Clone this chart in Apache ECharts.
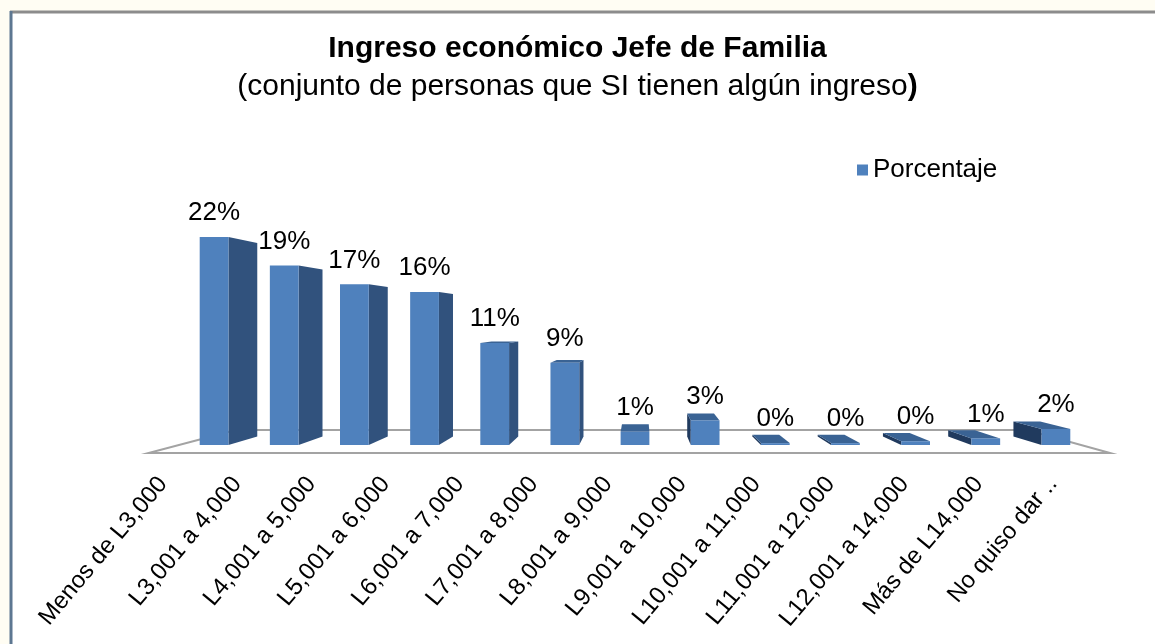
<!DOCTYPE html>
<html>
<head>
<meta charset="utf-8">
<title>Ingreso económico Jefe de Familia</title>
<script src="https://cdn.jsdelivr.net/npm/echarts@6/dist/echarts.min.js"></script>
<style>
    html, body {
        margin: 0;
        padding: 0;
        background: #fffdf3;
    }
    #main {
        width: 1155px;
        height: 644px;
    }
</style>
</head>
<body>
<div id="main"></div>
<script>
    // categorías de ingreso y porcentajes
    var categorias = ['Menos de L3,000', 'L3,001 a 4,000', 'L4,001 a 5,000', 'L5,001 a 6,000',
        'L6,001 a 7,000', 'L7,001 a 8,000', 'L8,001 a 9,000', 'L9,001 a 10,000',
        'L10,001 a 11,000', 'L11,001 a 12,000', 'L12,001 a 14,000', 'Más de L14,000', 'No quiso dar ..'];
    var porcentaje = [22.0, 19.0, 17.0, 16.2, 10.8, 8.7, 1.4, 2.6, 0.2, 0.2, 0.4, 0.7, 1.7];

    var FONT = '"Liberation Sans", Arial, sans-serif';
    var DEPTH = 0.93;      // escala de la cara trasera
    var EYE = 12.9;        // altura del punto de fuga (en %)
    var BAR_RATIO = 0.41;

    var myChart = echarts.init(document.getElementById('main'));

    function vanish(params, api) {
        var cs = params.coordSys;
        return [cs.x + cs.width / 2 + 5, api.coord([0, EYE])[1]];
    }

    function renderBar(params, api) {
        var idx = api.value(0), v = api.value(1);
        var top = api.coord([idx, v]), base = api.coord([idx, 0]);
        var w = api.size([1, 0])[0] * BAR_RATIO;
        var vp = vanish(params, api);
        var l = top[0] - w / 2, r = top[0] + w / 2, t = top[1], b = base[1];
        var back = function (x, y) {
            return [vp[0] + DEPTH * (x - vp[0]), vp[1] + DEPTH * (y - vp[1])];
        };
        var kids = [];
        if (r < vp[0]) {
            kids.push({type: 'polygon', shape: {points: [[r, t], back(r, t), back(r, b), [r, b]]},
                style: {fill: '#31527d'}});
        }
        if (l > vp[0]) {
            kids.push({type: 'polygon', shape: {points: [[l, t], back(l, t), back(l, b), [l, b]]},
                style: {fill: '#203a5e'}});
        }
        if (t > vp[1]) {
            kids.push({type: 'polygon', shape: {points: [[l, t], [r, t], back(r, t), back(l, t)]},
                style: {fill: '#3a6394'}});
        }
        kids.push({type: 'rect', shape: {x: l, y: t, width: w, height: b - t},
            style: {fill: '#4f81bd'}});
        kids.push({type: 'text', x: top[0], y: t - 24,
            style: {text: Math.round(v) + '%', align: 'center', verticalAlign: 'middle',
                fontSize: 26, fontFamily: FONT, fill: '#000'}});
        return {type: 'group', children: kids};
    }

    function renderFloor(params, api) {
        var cs = params.coordSys;
        var vp = vanish(params, api);
        var y0 = api.coord([0, 0])[1];
        var x1 = cs.x, x2 = cs.x + cs.width - 10;
        var at = function (x, s) {
            return [vp[0] + s * (x - vp[0]), vp[1] + s * (y0 - vp[1])];
        };
        return {
            type: 'polygon',
            shape: {points: [at(x1, 1.066), at(x2, 1.066), at(x2, 0.877), at(x1, 0.877)]},
            style: {fill: '#ffffff', stroke: '#a3a3a3', lineWidth: 2}
        };
    }

    myChart.setOption({
        backgroundColor: 'transparent',
        graphic: [
            {type: 'rect', z: -10, shape: {x: 11, y: 12, width: 1200, height: 700},
                style: {fill: '#ffffff'}},
            {type: 'line', z: -9, shape: {x1: 10, y1: 12, x2: 1155, y2: 12},
                style: {stroke: '#8c8c8c', lineWidth: 3}},
            {type: 'line', z: -9, shape: {x1: 11, y1: 11, x2: 11, y2: 644},
                style: {stroke: '#5d7791', lineWidth: 3}}
        ],
        title: {
            text: 'Ingreso económico Jefe de Familia',
            subtext: '(conjunto de personas que SI tienen algún ingreso{b|)}',
            left: 'center',
            top: 34,
            padding: [0, 0, 0, 18],
            itemGap: 8,
            textStyle: {fontSize: 30, fontWeight: 'bold', fontFamily: FONT, color: '#000'},
            subtextStyle: {fontSize: 30, fontFamily: FONT, color: '#000',
                rich: {b: {fontSize: 30, fontWeight: 'bold', fontFamily: FONT, color: '#000'}}}
        },
        legend: {
            data: ['Porcentaje'],
            left: 852,
            top: 152,
            icon: 'rect',
            itemWidth: 11,
            itemHeight: 11,
            itemGap: 6,
            textStyle: {fontSize: 26, fontFamily: FONT, color: '#000'}
        },
        grid: [
            {left: 179, right: 64, top: 208.75, bottom: 199},
            {left: 126, right: 65, top: 208.75, bottom: 199}
        ],
        xAxis: [
            {type: 'category', data: categorias, gridIndex: 0, show: false},
            {type: 'category', data: categorias, gridIndex: 1,
                axisLine: {show: false}, axisTick: {show: false},
                axisLabel: {rotate: 50, interval: 0, margin: 35, fontSize: 24,
                    fontFamily: FONT, color: '#000'}}
        ],
        yAxis: [
            {type: 'value', min: 0, max: 25, gridIndex: 0, show: false},
            {type: 'value', min: 0, max: 25, gridIndex: 1, show: false}
        ],
        series: [
            {
                type: 'custom',
                name: 'piso',
                renderItem: renderFloor,
                data: [[0, 0]],
                clip: false,
                silent: true,
                z: 1
            },
            {
                type: 'custom',
                name: 'Porcentaje',
                renderItem: renderBar,
                itemStyle: {color: '#4f81bd'},
                encode: {x: 0, y: 1},
                data: porcentaje.map(function (v, i) { return [i, v]; }),
                clip: false,
                z: 2
            }
        ]
    });

    window.addEventListener('resize', function () {
        myChart.resize();
    });
</script>
</body>
</html>
